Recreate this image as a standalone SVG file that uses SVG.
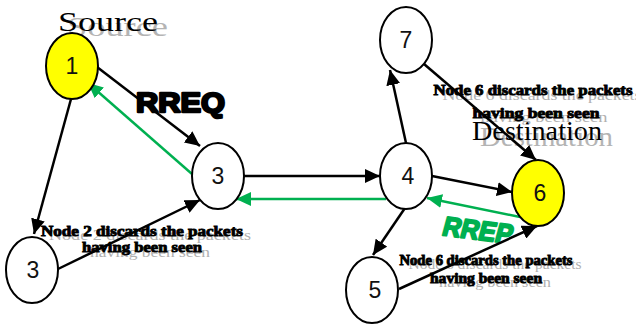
<svg xmlns="http://www.w3.org/2000/svg" width="636" height="327" viewBox="0 0 636 327">
<style>
.bg{fill:#fff}
.node ellipse{stroke:#000;stroke-width:2;fill:#fff}
.node.y ellipse{fill:#ffff00}
.node text{font-family:"Liberation Sans",Arial,sans-serif;font-size:23px;text-anchor:middle;fill:#111}
.blk{stroke:#000;stroke-width:2.5;fill:none}
.grn{stroke:#00b050;stroke-width:2.4;fill:none}
.note{font-family:"Liberation Serif","Times New Roman",serif;font-weight:bold;fill:#000;stroke:#000;stroke-width:0.9;text-anchor:middle}
.shadow{font-family:"Liberation Serif","Times New Roman",serif;fill:#b0b0b0;text-anchor:middle}
.title{font-family:"Liberation Serif","Times New Roman",serif;fill:#000}
.titleS{font-family:"Liberation Serif","Times New Roman",serif;fill:#b4b4b4}
</style>
<defs>
<marker id="ab" markerUnits="userSpaceOnUse" markerWidth="16" markerHeight="14" refX="15" refY="7" orient="auto"><path d="M0,0 L15,7 L0,14 z" fill="#000"/></marker>
<marker id="ag" markerUnits="userSpaceOnUse" markerWidth="16" markerHeight="14" refX="15" refY="7" orient="auto"><path d="M0,0 L15,7 L0,14 z" fill="#00b050"/></marker>
</defs>
<rect class="bg" x="0" y="0" width="636" height="327"/>

<g id="labels">
<text class="titleS" x="67" y="36" font-size="28" textLength="101" lengthAdjust="spacingAndGlyphs">Source</text>
<text class="title" x="58" y="31" font-size="28" textLength="100" lengthAdjust="spacingAndGlyphs">Source</text>
<text class="titleS" x="480" y="146" font-size="27" textLength="133" lengthAdjust="spacingAndGlyphs">Destination</text>
<text class="title" x="472" y="140" font-size="27" textLength="130" lengthAdjust="spacingAndGlyphs">Destination</text>

<text class="shadow" x="150" y="240" font-size="15" textLength="202" lengthAdjust="spacingAndGlyphs">Node 2 discards the packets</text>
<text class="shadow" x="150" y="257" font-size="15" textLength="120" lengthAdjust="spacingAndGlyphs">having been seen</text>
<text class="note" x="142" y="236" font-size="15" textLength="202" lengthAdjust="spacingAndGlyphs">Node 2 discards the packets</text>
<text class="note" x="142" y="252" font-size="15" textLength="120" lengthAdjust="spacingAndGlyphs">having been seen</text>

<text class="shadow" x="542" y="100" font-size="15" textLength="199" lengthAdjust="spacingAndGlyphs">Node 6 discards the packets</text>
<text class="shadow" x="544" y="122" font-size="15" textLength="127" lengthAdjust="spacingAndGlyphs">having been seen</text>
<text class="note" x="533" y="95" font-size="15" textLength="199" lengthAdjust="spacingAndGlyphs">Node 6 discards the packets</text>
<text class="note" x="536" y="118" font-size="15" textLength="127" lengthAdjust="spacingAndGlyphs">having been seen</text>

<text class="shadow" x="495" y="269" font-size="14" textLength="173" lengthAdjust="spacingAndGlyphs">Node 6 discards the packets</text>
<text class="shadow" x="495" y="287" font-size="14" textLength="112" lengthAdjust="spacingAndGlyphs">having been seen</text>
<text class="note" x="486" y="265" font-size="14" textLength="173" lengthAdjust="spacingAndGlyphs">Node 6 discards the packets</text>
<text class="note" x="486" y="283" font-size="14" textLength="112" lengthAdjust="spacingAndGlyphs">having been seen</text>

<text x="136" y="112" font-family="'Liberation Sans',Arial,sans-serif" font-weight="bold" font-size="28" fill="#000" stroke="#000" stroke-width="2.4" stroke-linejoin="round" textLength="89" lengthAdjust="spacingAndGlyphs">RREQ</text>
<text transform="translate(441,235) rotate(7) skewX(-8)" x="0" y="0" font-family="'Liberation Sans',Arial,sans-serif" font-weight="bold" font-size="27" fill="#00b050" stroke="#00b050" stroke-width="2" stroke-linejoin="round" textLength="70" lengthAdjust="spacingAndGlyphs">RREP</text>
</g>

<g id="connectors">
<line class="blk" x1="97" y1="67" x2="200" y2="146" marker-end="url(#ab)"/>
<line class="grn" x1="192" y1="174" x2="88" y2="83" marker-end="url(#ag)"/>
<line class="blk" x1="71" y1="99" x2="34" y2="234" marker-end="url(#ab)"/>
<line class="blk" x1="58" y1="269" x2="200" y2="200" marker-end="url(#ab)"/>
<line class="blk" x1="244" y1="176" x2="380" y2="176" marker-end="url(#ab)"/>
<line class="grn" x1="386" y1="199" x2="236" y2="199" marker-end="url(#ag)"/>
<line class="blk" x1="406" y1="143" x2="390" y2="70" marker-end="url(#ab)"/>
<line class="blk" x1="424" y1="64" x2="536" y2="160" marker-end="url(#ab)"/>
<line class="blk" x1="432" y1="176" x2="512" y2="192" marker-end="url(#ab)"/>
<line class="grn" x1="520" y1="217" x2="427" y2="198" marker-end="url(#ag)"/>
<line class="blk" x1="405" y1="208" x2="373" y2="255" marker-end="url(#ab)"/>
<line class="blk" x1="399" y1="289" x2="537" y2="226" marker-end="url(#ab)"/>
</g>

<g id="node1" class="node y"><ellipse cx="72" cy="66" rx="26" ry="33"/><text x="72" y="74">1</text></g>
<g id="node3mid" class="node"><ellipse cx="218" cy="176" rx="26" ry="33"/><text x="218" y="184">3</text></g>
<g id="node3bl" class="node"><ellipse cx="32" cy="270" rx="26" ry="33"/><text x="33" y="278">3</text></g>
<g id="node7" class="node"><ellipse cx="406" cy="40" rx="26" ry="33"/><text x="406" y="48">7</text></g>
<g id="node4" class="node"><ellipse cx="406" cy="176" rx="26" ry="33"/><text x="408" y="184">4</text></g>
<g id="node6" class="node y"><ellipse cx="538" cy="193" rx="26" ry="33"/><text x="540" y="201">6</text></g>
<g id="node5" class="node"><ellipse cx="372" cy="290" rx="26" ry="33"/><text x="375" y="298">5</text></g>
</svg>
